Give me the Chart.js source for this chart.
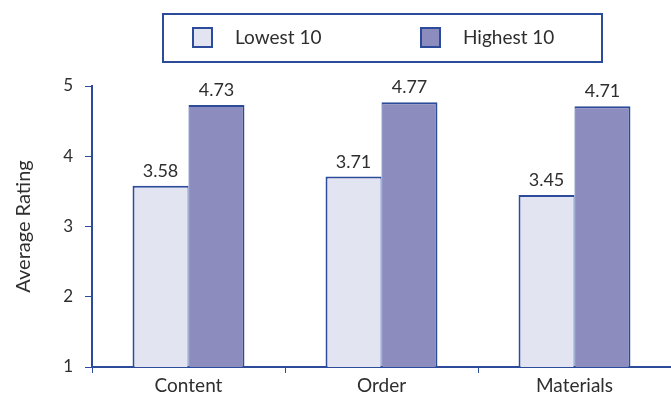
<!DOCTYPE html>
<html>
<head>
<meta charset="utf-8">
<script src="https://cdn.jsdelivr.net/npm/chart.js@4/dist/chart.umd.min.js"></script>
<style>
  html, body { margin: 0; padding: 0; background: #ffffff; }
  #wrap { width: 671px; height: 394px; position: relative; }
</style>
</head>
<body>
<div id="wrap"><canvas id="chart" width="671" height="394"></canvas></div>
<script>
// Average ratings by area for the lowest- and highest-rated groups
const categories = ['Content', 'Order', 'Materials'];
const lowest10 = [3.58, 3.71, 3.45];
const highest10 = [4.73, 4.77, 4.71];
const seriesNames = ['Lowest 10', 'Highest 10'];
const yTicks = [1, 2, 3, 4, 5];

const FONT = 'Lato, "Open Sans", sans-serif';
const BLUE = '#2d4b9b';
const TEXT = '#2e2e2e';

// Boxed legend drawn above the plot
const boxedLegend = {
  id: 'boxedLegend',
  afterDraw(chart) {
    const ctx = chart.ctx;
    ctx.save();
    ctx.strokeStyle = BLUE;
    ctx.lineWidth = 2;
    ctx.strokeRect(163, 14, 439, 48);
    const itemX = [193, 421];
    chart.data.datasets.forEach((ds, i) => {
      ctx.fillStyle = ds.backgroundColor;
      ctx.fillRect(itemX[i], 28, 19, 19);
      ctx.strokeStyle = BLUE;
      ctx.lineWidth = 2;
      ctx.strokeRect(itemX[i], 28, 19, 19);
      ctx.fillStyle = TEXT;
      ctx.font = '19px ' + FONT;
      ctx.textAlign = 'left';
      ctx.textBaseline = 'middle';
      ctx.fillText(ds.label, itemX[i] + 42, 38);
    });
    ctx.restore();
  }
};

// Value printed above each bar
const valueLabels = {
  id: 'valueLabels',
  afterDatasetsDraw(chart) {
    const ctx = chart.ctx;
    ctx.save();
    ctx.fillStyle = TEXT;
    ctx.font = '18px ' + FONT;
    ctx.textAlign = 'center';
    ctx.textBaseline = 'alphabetic';
    chart.data.datasets.forEach((ds, di) => {
      chart.getDatasetMeta(di).data.forEach((bar, i) => {
        ctx.fillText(ds.data[i].toFixed(2), bar.x, bar.y - 9);
      });
    });
    ctx.restore();
  }
};

new Chart(document.getElementById('chart'), {
  type: 'bar',
  data: {
    labels: categories,
    datasets: [
      {
        label: seriesNames[0],
        data: lowest10,
        backgroundColor: '#e2e4f1',
        borderColor: BLUE,
        borderWidth: { top: 2, left: 2, right: 1, bottom: 0 }
      },
      {
        label: seriesNames[1],
        data: highest10,
        backgroundColor: '#8c8cbf',
        borderColor: BLUE,
        borderWidth: { top: 2, left: 1, right: 2, bottom: 0 }
      }
    ]
  },
  options: {
    responsive: false,
    animation: false,
    layout: { padding: { top: 86, right: 0, left: 0, bottom: 0 } },
    datasets: {
      bar: { categoryPercentage: 0.58, barPercentage: 1.0 }
    },
    plugins: {
      legend: { display: false },
      tooltip: { enabled: false }
    },
    scales: {
      x: {
        offset: true,
        grid: {
          offset: true,
          drawOnChartArea: false,
          drawTicks: true,
          tickLength: 6,
          color: BLUE
        },
        border: { color: BLUE, width: 2 },
        ticks: {
          color: TEXT,
          font: { family: FONT, size: 19 },
          padding: 1
        },
        afterFit(scale) { scale.height = 27; }
      },
      y: {
        min: 1,
        max: 5,
        afterBuildTicks(scale) { scale.ticks = yTicks.map(v => ({ value: v })); },
        grid: {
          drawOnChartArea: false,
          drawTicks: true,
          tickLength: 7,
          color: BLUE
        },
        border: { color: BLUE, width: 2 },
        ticks: {
          color: TEXT,
          font: { family: FONT, size: 17 },
          padding: 12
        },
        title: {
          display: true,
          text: 'Average Rating',
          color: TEXT,
          font: { family: FONT, size: 20 },
          padding: { top: 12, bottom: 0 }
        },
        afterFit(scale) { scale.width = 92; }
      }
    }
  },
  plugins: [boxedLegend, valueLabels]
});
</script>
</body>
</html>
